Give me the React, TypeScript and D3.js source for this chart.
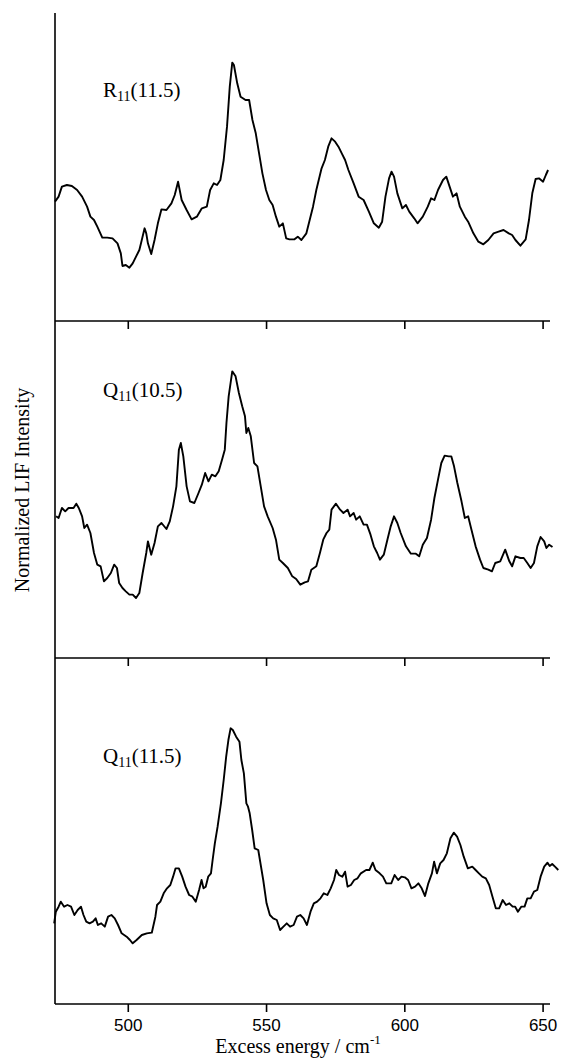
import React from "react";
import * as d3 from "d3";

// ---------- data ----------
const xTicks = [500, 550, 600, 650];
const xDomain = [473.5, 652.5];

// Panel 1: R11(11.5)
const energyR = [
  473.5, 474.8, 476.0, 477.8, 479.6, 481.5, 483.3, 485.1, 486.3, 487.6,
  488.8, 490.6, 492.4, 494.3, 496.1, 497.3, 497.9, 499.1, 500.4, 501.6,
  502.8, 504.0, 504.6, 505.9, 506.5, 507.1, 508.3, 509.5, 510.7, 512.0,
  513.8, 515.6, 516.8, 518.0, 519.3, 521.1, 522.9, 524.8, 526.6, 528.4,
  529.6, 530.9, 532.1, 533.3, 534.5, 535.7, 536.7, 537.6, 538.2, 539.4,
  540.6, 542.4, 543.7, 544.9, 546.1, 547.3, 548.5, 549.8, 551.0, 552.2,
  553.4, 554.6, 555.9, 557.1, 558.3, 560.1, 561.3, 562.6, 564.4, 565.6,
  566.8, 568.0, 569.9, 571.1, 572.3, 573.5, 574.8, 576.0, 577.2, 578.4,
  579.6, 581.5, 583.3, 585.1, 587.0, 588.8, 590.6, 591.8, 593.0, 594.3,
  595.2, 596.1, 597.3, 599.1, 600.4, 601.6, 603.4, 604.6, 606.5, 608.3,
  609.5, 610.7, 612.0, 613.8, 615.0, 616.2, 617.4, 618.7, 619.9, 621.7,
  622.9, 624.8, 626.6, 628.4, 630.2, 632.1, 633.9, 635.7, 637.6, 638.8,
  640.0, 641.8, 643.7, 644.9, 646.1, 647.3, 648.5, 650.0, 651.0, 651.8,
];
const lifR = [
  358, 373, 403, 408, 405, 393, 373, 343, 313, 303,
  283, 250, 250, 248, 233, 203, 165, 168, 160, 173,
  193, 213, 233, 278, 263, 233, 201, 243, 293, 335,
  333, 353, 378, 418, 363, 333, 305, 313, 338, 343,
  393, 413, 408, 423, 483, 583, 703, 775, 768, 713,
  673, 663, 663, 603, 563, 503, 443, 393, 363, 348,
  313, 283, 293, 248, 245, 245, 253, 243, 263, 303,
  343, 393, 458, 483, 523, 548, 538, 523, 503, 483,
  453, 413, 373, 363, 328, 293, 280, 298, 373, 428,
  448, 433, 383, 338, 348, 328, 308, 293, 313, 343,
  368, 363, 393, 423, 433, 403, 373, 383, 343, 313,
  298, 263, 238, 230, 243, 263, 268, 273, 263, 258,
  243, 226, 245, 303, 383, 426, 428, 418, 438, 453,
];

// Panel 2: Q11(10.5)
const energyQ105 = [
  473.9, 474.8, 476.0, 477.2, 478.4, 480.2, 481.2, 482.1, 483.3, 484.1,
  485.1, 486.3, 487.6, 488.8, 490.0, 491.2, 492.4, 493.7, 494.9, 495.9,
  496.7, 497.9, 499.1, 500.4, 501.6, 502.8, 504.0, 505.2, 506.5, 507.1,
  508.3, 509.5, 510.7, 512.0, 513.8, 515.0, 516.2, 517.4, 518.3, 519.0,
  519.9, 521.1, 522.3, 523.9, 525.4, 526.6, 527.8, 529.0, 530.2, 531.5,
  532.7, 533.9, 534.9, 535.5, 536.3, 537.6, 538.8, 540.0, 541.2, 542.2,
  542.7, 543.4, 544.3, 545.5, 546.7, 547.9, 549.1, 550.4, 552.2, 553.4,
  554.6, 555.9, 557.7, 559.3, 560.7, 562.2, 563.8, 565.0, 566.2, 568.0,
  569.3, 570.5, 571.7, 572.7, 573.5, 575.1, 576.6, 577.8, 579.3, 580.2,
  581.5, 582.4, 583.7, 585.1, 586.3, 587.6, 588.8, 590.0, 591.0, 592.4,
  593.7, 594.9, 596.1, 597.3, 598.5, 600.4, 602.2, 604.0, 605.2, 606.5,
  608.0, 609.5, 610.7, 612.0, 613.2, 614.4, 615.9, 616.8, 617.8, 619.0,
  620.5, 621.7, 622.9, 624.1, 625.6, 627.2, 628.4, 630.2, 631.5, 632.7,
  634.5, 636.3, 637.8, 638.8, 640.0, 641.8, 643.0, 644.3, 645.5, 646.7,
  647.9, 649.1, 650.4, 651.2, 652.2, 653.4,
];
const lifQ105 = [
  425, 420, 450, 440, 450, 450, 463, 450, 425, 390,
  400, 375, 315, 280, 275, 230, 240, 255, 280, 270,
  225, 210, 200, 190, 190, 180, 195, 255, 315, 350,
  310, 345, 395, 405, 387, 410, 455, 515, 625, 645,
  605, 515, 470, 465, 495, 520, 555, 530, 550, 545,
  560, 595, 625, 705, 785, 860, 845, 795, 755, 725,
  675, 690, 665, 585, 575, 515, 455, 425, 390, 355,
  295, 285, 270, 245, 237, 220, 227, 230, 265, 275,
  315, 355, 375, 385, 445, 463, 445, 435, 445, 425,
  435, 415, 425, 400, 400, 370, 335, 315, 295, 310,
  355, 395, 425, 405, 375, 335, 313, 313, 305, 340,
  360, 415, 480, 535, 585, 607, 605, 605, 575, 525,
  470, 420, 425, 385, 335, 295, 270, 265, 260, 285,
  290, 325, 290, 275, 305, 300, 300, 285, 270, 285,
  335, 363, 350, 330, 340, 333,
];

// Panel 3: Q11(11.5)
const energyQ115 = [
  473.2, 473.8, 474.8, 475.6, 476.8, 478.0, 479.3, 480.5, 481.7, 482.9,
  483.8, 484.8, 486.0, 487.2, 488.2, 489.0, 490.2, 491.5, 492.7, 493.9,
  495.1, 496.3, 497.6, 499.4, 500.6, 501.6, 503.0, 504.9, 506.7, 508.5,
  509.8, 510.4, 511.6, 512.8, 514.0, 515.2, 516.2, 517.1, 518.3, 519.5,
  520.7, 522.0, 523.2, 524.4, 525.6, 526.5, 527.2, 528.0, 528.9, 529.9,
  530.5, 531.3, 532.3, 533.5, 534.5, 535.4, 536.2, 537.0, 537.8, 539.0,
  540.2, 540.9, 541.8, 542.7, 543.3, 543.9, 544.8, 545.7, 547.0, 547.6,
  548.8, 550.0, 551.2, 552.4, 553.7, 554.9, 556.1, 557.3, 558.5, 559.8,
  561.0, 562.2, 563.4, 564.6, 565.9, 567.1, 568.3, 569.5, 570.7, 572.0,
  573.2, 574.4, 575.2, 576.2, 577.4, 578.4, 579.3, 580.5, 581.7, 582.9,
  584.1, 586.0, 587.2, 588.4, 589.4, 590.9, 592.1, 593.3, 595.1, 596.3,
  597.6, 598.8, 600.0, 601.2, 602.4, 603.7, 604.9, 606.1, 607.3, 608.5,
  609.8, 610.6, 611.6, 612.8, 614.0, 615.2, 616.5, 617.7, 618.9, 620.1,
  621.3, 622.8, 624.4, 625.6, 626.8, 628.0, 629.3, 630.5, 631.7, 632.9,
  634.1, 635.4, 636.6, 637.8, 639.0, 639.9, 640.9, 642.1, 643.3, 644.3,
  645.5, 646.7, 647.9, 649.1, 650.4, 651.6, 652.4, 653.3, 654.3, 655.5,
];
const lifQ115 = [
  242, 277, 292, 307, 292, 297, 292, 267, 282, 292,
  267, 247, 242, 247, 257, 237, 242, 232, 262, 267,
  257, 237, 212, 202, 192, 182, 192, 207, 212, 214,
  262, 297, 307, 332, 347, 357, 382, 407, 407, 382,
  352, 327, 322, 307, 342, 372, 347, 352, 382, 392,
  432, 482, 532, 602, 672, 742, 792, 827, 822, 802,
  787, 732, 692, 602, 592, 572, 522, 467, 462, 432,
  372, 302, 267, 257, 252, 222, 232, 242, 232, 237,
  262, 267, 257, 237, 277, 302, 307, 317, 332, 327,
  347, 372, 402, 387, 382, 397, 352, 357, 372, 377,
  392, 402, 402, 424, 402, 392, 382, 362, 362, 387,
  372, 382, 380, 372, 347, 352, 362, 347, 324, 362,
  392, 427, 392, 422, 432, 452, 497, 514, 502, 477,
  442, 407, 412, 402, 392, 382, 377, 357, 322, 287,
  287, 312, 297, 302, 292, 292, 277, 292, 292, 317,
  317, 337, 342, 382, 412, 424, 414, 420, 412, 402,
];

// panel labels: main letter, subscript, rest
const labelMain = ["R", "Q", "Q"];
const labelSub = ["11", "11", "11"];
const labelRest = ["(11.5)", "(10.5)", "(11.5)"];
// full-scale intensity (arbitrary units) of each panel
const fullScale = [924, 1017, 1041];

const seriesEnergy = [energyR, energyQ105, energyQ115];
const seriesLif = [lifR, lifQ105, lifQ115];

// ---------- layout ----------
const W = 566;
const H = 1060;
const axisLeft = 55;
const axisRight = 550;
const panelTop = [13, 319, 657];
const panelBottom = [321, 658, 1004];
const tickLen = 8;
const serif = "'Liberation Serif', 'Times New Roman', serif";
const sans = "'Liberation Sans', Arial, sans-serif";

export default function App() {
  const x = d3.scaleLinear().domain(xDomain).range([axisLeft, axisRight]);
  const axisLines = [321, 658, 1004];

  return (
    <svg
      width={W}
      height={H}
      viewBox={`0 0 ${W} ${H}`}
      style={{ position: "absolute", left: 0, top: 0, background: "#fff" }}
    >
      <rect x={0} y={0} width={W} height={H} fill="#fff" />
      {/* curves */}
      {seriesEnergy.map((en, i) => {
        const y = d3
          .scaleLinear()
          .domain([0, fullScale[i]])
          .range([panelBottom[i], panelTop[i]]);
        const pts = en.map((e, k) => [e, seriesLif[i][k]] as [number, number]);
        const line = d3
          .line<[number, number]>()
          .x((d) => x(d[0]))
          .y((d) => y(d[1]));
        return (
          <path
            key={"c" + i}
            d={line(pts) || ""}
            fill="none"
            stroke="#000"
            strokeWidth={1.9}
            strokeLinejoin="round"
          />
        );
      })}

      {/* left axis */}
      <line x1={axisLeft} x2={axisLeft} y1={13} y2={1004} stroke="#000" strokeWidth={1.6} />

      {/* horizontal axes with ticks */}
      {axisLines.map((ly, i) => (
        <g key={"ax" + i}>
          <line x1={axisLeft} x2={axisRight} y1={ly} y2={ly} stroke="#000" strokeWidth={1.6} />
          {xTicks.map((t) => (
            <line
              key={t}
              x1={x(t)}
              x2={x(t)}
              y1={ly}
              y2={ly + tickLen}
              stroke="#000"
              strokeWidth={1.6}
            />
          ))}
        </g>
      ))}

      {/* tick labels */}
      {xTicks.map((t) => (
        <text
          key={"tl" + t}
          x={x(t)}
          y={1031}
          textAnchor="middle"
          fontFamily={sans}
          fontSize={17}
          fill="#000"
        >
          {t}
        </text>
      ))}

      {/* panel labels */}
      {labelMain.map((m, i) => (
        <text
          key={"pl" + i}
          x={103}
          y={[97, 397, 763][i]}
          fontFamily={serif}
          fontSize={21}
          fill="#000"
        >
          {m}
          <tspan fontSize={14} dy={4}>
            {labelSub[i]}
          </tspan>
          <tspan dy={-4}>{labelRest[i]}</tspan>
        </text>
      ))}

      {/* y label */}
      <text
        transform="translate(29,490) rotate(-90)"
        textAnchor="middle"
        fontFamily={serif}
        fontSize={20}
        fill="#000"
      >
        Normalized LIF Intensity
      </text>

      {/* x label */}
      <text x={298} y={1053} textAnchor="middle" fontFamily={serif} fontSize={20} fill="#000">
        Excess energy / cm
        <tspan fontSize={13} dy={-9}>
          -1
        </tspan>
      </text>
    </svg>
  );
}
